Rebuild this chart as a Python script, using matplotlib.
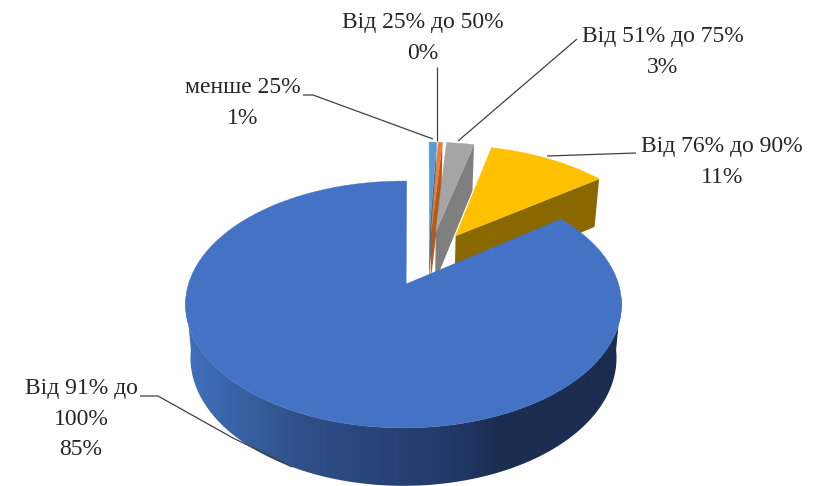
import matplotlib.pyplot as plt
import numpy as np
from matplotlib.colors import to_rgb
from matplotlib.patches import Polygon

plt.rcParams["font.family"] = ["Liberation Serif", "DejaVu Serif"]

# clockwise from the start angle
CATEGORIES = ["менше 25%", "Від 25% до 50%", "Від 51% до 75%", "Від 76% до 90%", "Від 91% до\n100%"]
SHARES = [0.7, 0.4, 2.55, 10.95, 85.4]
TOP_COLORS = ["#5B9BD5", "#ED7D31", "#A5A5A5", "#FFC000", "#4472C4"]
WALL_COLORS = ["#3F6E9B", "#B25A20", "#7F7F7F", "#8A6800", "#1B2D50"]
LABEL_XY = [(243, 103), (423, 38), (663, 52), (722, 162), (81, 419)]
LEADERS = [
    [(303, 95), (313, 95), (433, 139)],
    [(437, 67), (437, 141)],
    [(577, 39), (458, 141)],
    [(636, 153), (547, 156)],
    [(140, 396), (158, 396), (233, 438), (292, 467)],
]

# projection of the tilted disc
X0, Y0 = 403.5, 284
RX, RY = 215, 120
PERSP = 0.166
DEPTH, DEPTH_PERSP = 52.5, 0.094
EXPLODE = 0.25
START_ANGLE = 1.0
APEX_SHIFT = 0.012
SMALL_SHIFT = 0.006
GRADIENT_X = [190, 300, 450, 500]
GRADIENT_COLORS = ["#4070BC", "#2F5088", "#22396A", "#1B2D50"]


def project(x, y, z=0.0):
    """Disc coordinates to pixels, z = 0 top face, z = 1 bottom face."""
    x, y = np.asarray(x, float), np.asarray(y, float)
    w = 1 + PERSP * y
    px = X0 + RX * (1 - 0.023 * z) * x / w
    py = Y0 - RY * y / w + z * DEPTH / (1 + DEPTH_PERSP * y)
    return px, py


def wall_outline(xs, ys):
    top_x, top_y = project(xs, ys, 0)
    bot_x, bot_y = project(xs, ys, 1)
    return np.c_[np.r_[top_x, bot_x[::-1]], np.r_[top_y, bot_y[::-1]]]


def gradient_wall(ax, xs, ys):
    # only the part of the rim that faces the viewer
    front = ys < -0.1
    outline = wall_outline(xs[front], ys[front])
    x_min, x_max = outline[:, 0].min(), outline[:, 0].max()
    y_min, y_max = outline[:, 1].min(), outline[:, 1].max()
    columns = np.linspace(x_min, x_max, 512)
    stops = np.array([to_rgb(c) for c in GRADIENT_COLORS])
    strip = np.stack([np.interp(columns, GRADIENT_X, stops[:, i]) for i in range(3)], axis=1)
    image = ax.imshow(
        strip[np.newaxis, :, :],
        extent=(x_min, x_max, y_max, y_min),
        aspect="auto",
        interpolation="bilinear",
        zorder=1,
    )
    image.set_clip_path(Polygon(outline, transform=ax.transData))


def draw_slice(ax, start, end, apex, center, top_color, wall_color, big):
    theta = np.linspace(start, end, max(int(np.degrees(end - start) * 2), 2) + 1)
    xs = center[0] + np.sin(theta)
    ys = center[1] + np.cos(theta)

    # the small slices only show their right cut face, the big one its rim
    if big:
        gradient_wall(ax, xs, ys)
    else:
        outline = wall_outline([apex[0], xs[-1]], [apex[1], ys[-1]])
        ax.add_patch(Polygon(outline, facecolor=wall_color, edgecolor="none"))

    px, py = project(np.r_[apex[0], xs], np.r_[apex[1], ys])
    ax.add_patch(
        Polygon(np.c_[px, py], facecolor=top_color, edgecolor=top_color, linewidth=0.3)
    )


def main() -> None:
    fig = plt.figure(figsize=(8.24, 4.86), dpi=100)
    ax = fig.add_axes([0, 0, 1, 1])

    edges = np.radians(np.r_[0, np.cumsum(SHARES)] * 3.6 + START_ANGLE)
    mids = (edges[:-1] + edges[1:]) / 2
    # every slice is pulled out, the big one sits on the origin
    off_x = EXPLODE * (np.sin(mids) - np.sin(mids[-1]))
    off_y = EXPLODE * (np.cos(mids) - np.cos(mids[-1]))
    last = len(SHARES) - 1

    for i in range(len(SHARES)):
        if i == last:
            apex, center = (off_x[i] + APEX_SHIFT, off_y[i]), (off_x[i], off_y[i])
        else:
            apex = center = (off_x[i] + SMALL_SHIFT, off_y[i])
        draw_slice(
            ax, edges[i], edges[i + 1], apex, center, TOP_COLORS[i], WALL_COLORS[i], i == last
        )

    for points in LEADERS:
        lx, ly = zip(*points)
        ax.plot(lx, ly, color="#404040", linewidth=0.9, solid_capstyle="butt")

    for name, share, (tx, ty) in zip(CATEGORIES, SHARES, LABEL_XY):
        ax.text(
            tx,
            ty,
            f"{name}\n{share:.0f}%",
            ha="center",
            va="center",
            fontsize=17,
            color="#262626",
            linespacing=1.6,
        )

    ax.set_xlim(0, 824)
    ax.set_ylim(486, 0)
    ax.axis("off")
    fig.savefig("out.png", dpi=100)
    plt.close(fig)


if __name__ == "__main__":
    main()
